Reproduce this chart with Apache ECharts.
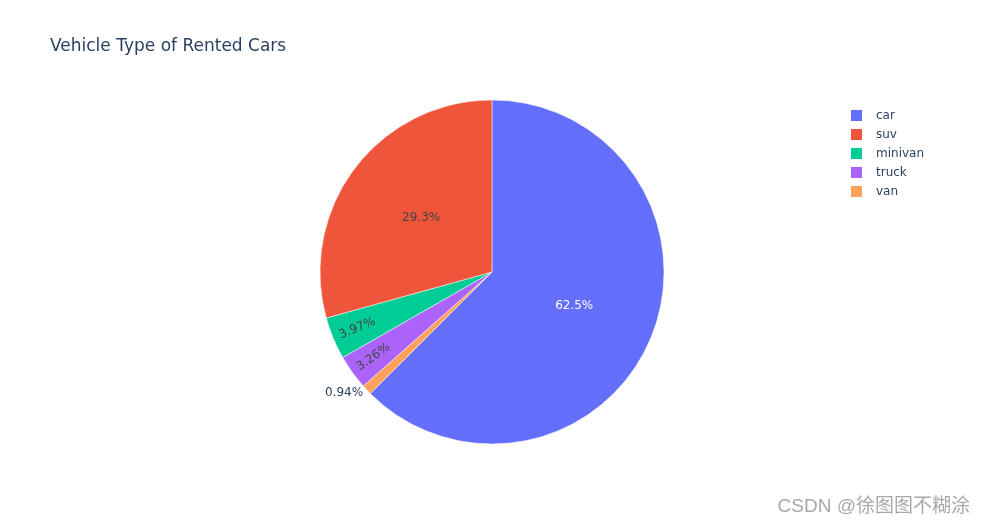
<!DOCTYPE html>
<html>
<head>
<meta charset="utf-8">
<script src="https://cdn.jsdelivr.net/npm/echarts@6/dist/echarts.min.js"></script>
<style>html,body{margin:0;padding:0;background:#fff;}#main{width:985px;height:525px;}</style>
</head>
<body>
<div id="main"></div>
<script>
// Slices in clockwise drawing order from 12 o'clock
const categories = ['car', 'van', 'truck', 'minivan', 'suv'];
const percents = [62.5, 0.94, 3.26, 3.97, 29.3];
const colors = ['#636efa', '#FFA15A', '#ab63fa', '#00cc96', '#EF553B'];
const legendOrder = ['car', 'suv', 'minivan', 'truck', 'van'];
const titleText = 'Vehicle Type of Rented Cars';
const watermark = 'CSDN @徐图图不糊涂';

const FONT = '"DejaVu Sans", Verdana, sans-serif';
const center = [492, 272];
const R = 172;

// label placement style per category (main pie: inside/outside; ring: pushed-out inside labels)
const mainLabel = {
  car: {show: true, position: 'inside', color: '#ffffff'},
  suv: {show: true, position: 'inside', color: '#444444'},
  van: {show: true, position: 'outside', color: '#2a3f5f'},
  truck: {show: false},
  minivan: {show: false}
};
const ringLabel = {
  truck: {show: true, position: 'inside', rotate: 'radial', color: '#444444'},
  minivan: {show: true, position: 'inside', rotate: 'radial', color: '#444444'}
};

const mainData = categories.map((c, i) => ({
  name: c, value: percents[i],
  itemStyle: {color: colors[i]},
  label: mainLabel[c]
}));
const ringData = categories.map((c, i) => ({
  name: c, value: percents[i],
  itemStyle: {color: 'rgba(0,0,0,0)', borderWidth: 0},
  label: ringLabel[c] || {show: false}
}));

const chart = echarts.init(document.getElementById('main'), null, {renderer: 'canvas'});
chart.setOption({
  animation: false,
  backgroundColor: '#ffffff',
  title: {
    text: titleText, left: 45, top: 33,
    textStyle: {fontFamily: FONT, fontSize: 17, fontWeight: 'normal', color: '#2a3f5f'}
  },
  legend: {
    orient: 'vertical', left: 844, top: 103,
    data: legendOrder, icon: 'rect', itemWidth: 13, itemHeight: 13, itemGap: 4,
    textStyle: {fontFamily: FONT, fontSize: 12, color: '#2a3f5f', lineHeight: 14, padding: [0, 0, 0, 8]}
  },
  graphic: [{
    type: 'text', right: 15, top: 497,
    style: {text: watermark, fontFamily: '"Liberation Sans", "Noto Sans CJK SC", sans-serif', fontSize: 19, fill: '#a8a8a8'}
  }],
  series: [{
    type: 'pie', center: center, radius: R, startAngle: 90, clockwise: true,
    avoidLabelOverlap: false, silent: true,
    itemStyle: {borderColor: '#ffffff', borderWidth: 0.5},
    label: {fontFamily: FONT, fontSize: 12, formatter: p => p.value + '%', distanceToLabelLine: 0},
    labelLine: {show: false, length: 5, length2: 0},
    data: mainData
  }, {
    type: 'pie', center: center, radius: [114, R], startAngle: 90, clockwise: true,
    avoidLabelOverlap: false, silent: true, legendHoverLink: false,
    label: {fontFamily: FONT, fontSize: 12, formatter: p => p.value + '%'},
    labelLine: {show: false},
    data: ringData
  }]
});
</script>
</body>
</html>
